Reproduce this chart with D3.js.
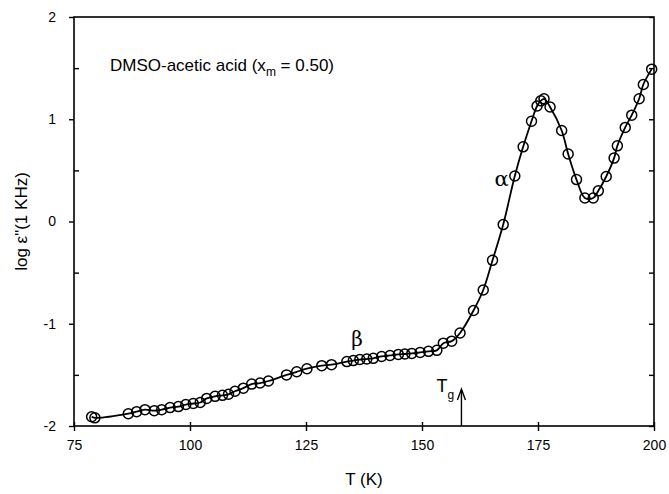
<!DOCTYPE html>
<html><head><meta charset="utf-8">
<script src="https://cdn.jsdelivr.net/npm/d3@7"></script>
<style>body{margin:0;background:#fff}</style>
</head><body>
<svg id="c" width="669" height="494"></svg>
<script>
const temps = [78.8,79.5,86.7,88.5,90.3,92.3,93.9,95.7,97.5,99.1,100.7,102.2,103.6,105.4,107.0,108.3,109.7,111.5,113.3,115.1,116.9,120.8,123.0,125.2,128.4,130.5,133.8,135.2,136.6,138.1,139.5,141.3,143.1,144.9,146.3,147.8,149.6,151.4,153.2,154.6,156.4,158.2,161.1,163.2,165.2,167.5,170.0,171.8,173.6,174.8,175.6,176.3,177.6,180.1,181.5,183.3,185.1,186.9,188.0,189.7,191.4,192.1,193.8,195.2,196.8,197.7,199.5];
const logEps = [-1.91,-1.92,-1.88,-1.86,-1.84,-1.85,-1.84,-1.82,-1.81,-1.79,-1.78,-1.77,-1.73,-1.71,-1.70,-1.69,-1.66,-1.63,-1.59,-1.58,-1.56,-1.50,-1.47,-1.44,-1.41,-1.40,-1.37,-1.36,-1.35,-1.345,-1.338,-1.32,-1.31,-1.30,-1.296,-1.29,-1.28,-1.27,-1.26,-1.19,-1.17,-1.09,-0.87,-0.67,-0.38,-0.03,0.445,0.73,0.98,1.13,1.18,1.20,1.12,0.89,0.66,0.41,0.23,0.23,0.30,0.44,0.62,0.74,0.92,1.04,1.20,1.34,1.49];
const xTicks = [75,100,125,150,175,200];
const yTicks = [-2,-1,0,1,2];
const yMinor = [-1.5,-0.5,0.5,1.5];
const tg = 158.5;

const svg = d3.select("#c");
const L=74,R=654,T=17,B=426;
const x = d3.scaleLinear().domain([75,200]).range([L,R]);
const y = d3.scaleLinear().domain([-2,2]).range([B,T]);
const font = "'Liberation Sans', Arial, sans-serif";

svg.append("rect").attr("x",L).attr("y",T).attr("width",R-L).attr("height",B-T)
  .attr("fill","none").attr("stroke","#000").attr("stroke-width",1.6);

svg.append("g").attr("transform",`translate(0,${B})`)
  .call(d3.axisBottom(x).tickValues(xTicks).tickSize(5).tickPadding(9).tickFormat(d=>String(d)));
svg.append("g").attr("transform",`translate(${L},0)`)
  .call(d3.axisLeft(y).tickValues(yTicks).tickSize(5).tickPadding(13).tickFormat(d=>String(d)));
svg.append("g").attr("transform",`translate(${L},0)`)
  .call(d3.axisRight(y).tickValues(yMinor).tickSize(5).tickFormat(""));
svg.append("g").attr("transform",`translate(${R},0)`)
  .call(d3.axisLeft(y).tickValues(yMinor.concat(yTicks)).tickSize(5).tickFormat(""));
svg.append("g").attr("transform",`translate(0,${B})`)
  .call(d3.axisTop(x).tickValues(xTicks).tickSize(4).tickFormat(""));
svg.selectAll(".domain").remove();
svg.selectAll(".tick line").attr("stroke","#000").attr("stroke-width",1.4);
svg.selectAll(".tick text").attr("font-family",font).attr("font-size",14).attr("fill","#000");

const line = d3.line().x((d,i)=>x(temps[i])).y((d,i)=>y(logEps[i])).curve(d3.curveCatmullRom.alpha(0.5));
svg.append("path").attr("d",line(temps)).attr("fill","none").attr("stroke","#000").attr("stroke-width",1.8);
svg.append("g").selectAll("circle").data(temps).join("circle")
  .attr("cx",d=>x(d)).attr("cy",(d,i)=>y(logEps[i])).attr("r",5)
  .attr("fill","none").attr("stroke","#000").attr("stroke-width",1.5);

svg.append("text").attr("x",(L+R)/2).attr("y",485).attr("text-anchor","middle")
  .attr("font-family",font).attr("font-size",17).text("T (K)");
svg.append("text").attr("transform",`translate(27,${(T+B)/2}) rotate(-90)`).attr("text-anchor","middle")
  .attr("font-family",font).attr("font-size",17).text("log \u03b5\"(1 KHz)");
const t1 = svg.append("text").attr("x",110).attr("y",71).attr("font-family",font).attr("font-size",17);
t1.append("tspan").text("DMSO-acetic acid (x");
t1.append("tspan").attr("font-size",12).attr("dy",5).text("m");
t1.append("tspan").attr("dy",-5).text(" = 0.50)");

svg.append("text").attr("x",x(170)-6).attr("y",y(0.45)+11).attr("text-anchor","end")
  .attr("font-family","'DejaVu Serif', serif").attr("font-size",21).text("\u03b1");
svg.append("text").attr("x",x(136)).attr("y",y(-1.22)).attr("text-anchor","middle")
  .attr("font-family","'DejaVu Serif', serif").attr("font-size",20).text("\u03b2");

const tgText = svg.append("text").attr("x",x(tg)-25).attr("y",392).attr("font-family",font).attr("font-size",18);
tgText.append("tspan").text("T");
tgText.append("tspan").attr("font-size",12).attr("dy",7).text("g");
svg.append("line").attr("x1",x(tg)).attr("x2",x(tg)).attr("y1",B).attr("y2",390)
  .attr("stroke","#000").attr("stroke-width",1.4);
svg.append("path").attr("d",`M${x(tg)-4},${400} L${x(tg)},${389} L${x(tg)+4},${400}`)
  .attr("fill","none").attr("stroke","#000").attr("stroke-width",1.4);
</script>
</body></html>
